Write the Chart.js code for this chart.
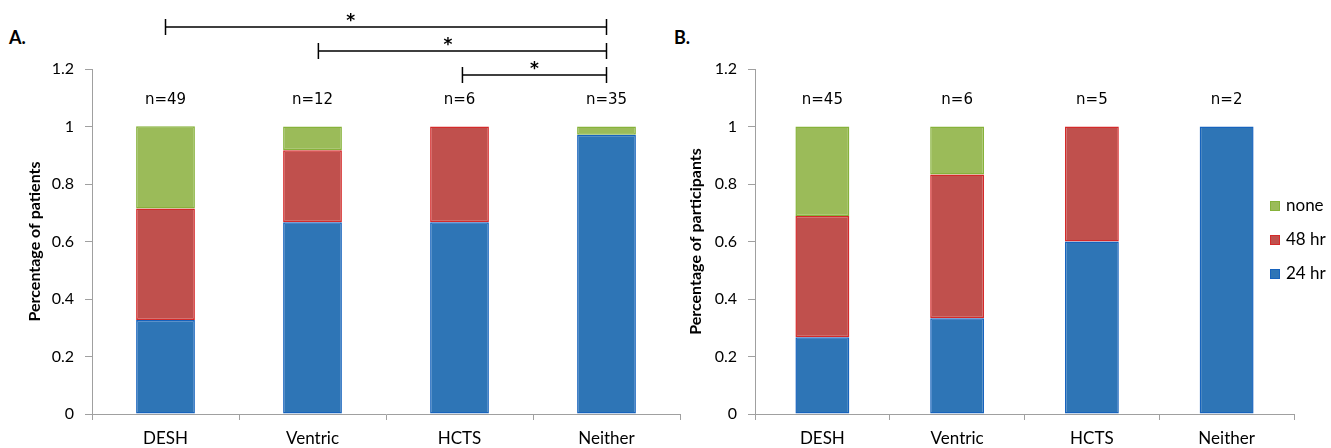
<!DOCTYPE html>
<html>
<head>
<meta charset="utf-8">
<title>Stacked bars</title>
<script src="https://cdn.jsdelivr.net/npm/chart.js@4.4.1/dist/chart.umd.min.js"></script>
<style>
  body { margin: 0; background: #fff; width: 1331px; height: 448px; overflow: hidden; position: relative; }
  canvas { position: absolute; top: 0; }
  #chartA { left: 0; }
  #chartB { left: 640px; }
  .panel { position: absolute; font: bold 18px Lato, sans-serif; color: #000; line-height: 1; }
</style>
</head>
<body>
<div class="panel" style="left:9px;top:28px">A.</div>
<div class="panel" style="left:674px;top:28px">B.</div>
<canvas id="chartA" width="690" height="448"></canvas>
<canvas id="chartB" width="691" height="448"></canvas>
<script>
  // categories and values (fractions)
  var categories = ['DESH', 'Ventric', 'HCTS', 'Neither'];
  var seriesNames = ['24 hr', '48 hr', 'none'];

  var patients24 = [0.327, 0.667, 0.667, 0.971];
  var patients48 = [0.388, 0.250, 0.333, 0];
  var patientsNone = [0.286, 0.083, 0, 0.029];
  var patientsN = ['n=49', 'n=12', 'n=6', 'n=35'];

  var participants24 = [0.267, 0.333, 0.600, 1.000];
  var participants48 = [0.422, 0.500, 0.400, 0];
  var participantsNone = [0.311, 0.167, 0, 0];
  var participantsN = ['n=45', 'n=6', 'n=5', 'n=2'];

  var yTickLabels = ['0', '0.2', '0.4', '0.6', '0.8', '1', '1.2'];

  // significance brackets in panel A (category position from/to, height in axis units)
  var brackets = [
    { from: 0, to: 3, level: 1.346, star: 0.42 },
    { from: 1.04, to: 3, level: 1.263, star: 0.45 },
    { from: 2.02, to: 3, level: 1.179, star: 0.5 }
  ];

  var fills = ['#2E75B6', '#C0504D', '#9BBB59'];
  var borders = ['#1763BD', '#D42A2A', '#86B23A'];
  var axisColor = '#A0A0A0';
  var textColor = '#000';

  function datasets(a, b, c) {
    return [a, b, c].map(function (vals, i) {
      return {
        label: seriesNames[i],
        data: vals,
        backgroundColor: fills[i],
        borderColor: borders[i],
        borderWidth: 1.5,
        borderSkipped: false,
        barPercentage: 0.4,
        categoryPercentage: 1.0
      };
    });
  }

  // "n=" counts above each bar
  var countLabels = {
    id: 'countLabels',
    afterDraw: function (chart, args, opts) {
      var ctx = chart.ctx;
      var x = chart.scales.x, y = chart.scales.y;
      ctx.save();
      ctx.font = '15px "DejaVu Sans"';
      ctx.fillStyle = '#000';
      ctx.textAlign = 'center';
      ctx.textBaseline = 'middle';
      opts.labels.forEach(function (t, i) {
        ctx.fillText(t, x.getPixelForValue(i), y.getPixelForValue(1) - 26);
      });
      ctx.restore();
    }
  };

  var sigBrackets = {
    id: 'sigBrackets',
    afterDraw: function (chart, args, opts) {
      if (!opts.items) return;
      var ctx = chart.ctx;
      var x = chart.scales.x, y = chart.scales.y;
      ctx.save();
      ctx.strokeStyle = '#000';
      ctx.lineWidth = 1.5;
      opts.items.forEach(function (b) {
        var x1 = x.getPixelForValue(b.from), x2 = x.getPixelForValue(b.to);
        var yy = y.getPixelForValue(b.level);
        ctx.beginPath();
        ctx.moveTo(x1, yy); ctx.lineTo(x2, yy);
        ctx.moveTo(x1, yy - 8); ctx.lineTo(x1, yy + 8);
        ctx.moveTo(x2, yy - 8); ctx.lineTo(x2, yy + 8);
        ctx.stroke();
        ctx.font = 'bold 17px "DejaVu Sans"';
        ctx.fillStyle = '#000';
        ctx.textAlign = 'center';
        ctx.textBaseline = 'middle';
        ctx.fillText('*', x1 + b.star * (x2 - x1), yy - 5);
      });
      ctx.restore();
    }
  };

  // legend inside the plot area, top series first
  var sideLegend = {
    id: 'sideLegend',
    afterDraw: function (chart, args, opts) {
      if (!opts.show) return;
      var ctx = chart.ctx;
      var ds = chart.data.datasets;
      ctx.save();
      ctx.font = '17px Lato';
      ctx.textAlign = 'left';
      ctx.textBaseline = 'middle';
      for (var k = 0; k < ds.length; k++) {
        var d = ds[ds.length - 1 - k];
        var cy = opts.top + k * opts.step;
        ctx.fillStyle = d.backgroundColor;
        ctx.fillRect(opts.left, cy - 5, 10, 10);
        ctx.strokeStyle = d.borderColor;
        ctx.lineWidth = 1;
        ctx.strokeRect(opts.left + 0.5, cy - 4.5, 9, 9);
        ctx.fillStyle = textColor;
        ctx.fillText(d.label, opts.left + 16, cy);
      }
      ctx.restore();
    }
  };

  function makeChart(id, data, nLabels, title, yWidth, padRight, titlePad, extra) {
    return new Chart(document.getElementById(id), {
      type: 'bar',
      data: { labels: categories, datasets: data },
      plugins: [countLabels, sigBrackets, sideLegend],
      options: {
        responsive: false,
        animation: false,
        layout: { padding: { top: 69, right: padRight, bottom: 0, left: 0 } },
        plugins: {
          legend: { display: false },
          tooltip: { enabled: false },
          countLabels: { labels: nLabels },
          sigBrackets: { items: extra.brackets },
          sideLegend: extra.legend || { show: false }
        },
        scales: {
          x: {
            stacked: true,
            grid: { display: true, drawOnChartArea: false, drawTicks: true, tickLength: 6, color: axisColor, offset: true },
            border: { color: axisColor, width: 1 },
            ticks: { font: { family: 'Lato', size: 17 }, color: textColor, padding: 8 },
            afterFit: function (s) { s.height = 34; }
          },
          y: {
            stacked: true,
            min: 0,
            max: 1.2,
            grid: { display: true, drawOnChartArea: false, drawTicks: true, tickLength: 7, color: axisColor },
            border: { color: axisColor, width: 1 },
            ticks: {
              stepSize: 0.2,
              padding: 11,
              font: { family: 'Lato', size: 16 },
              color: textColor,
              callback: function (v, i) { return yTickLabels[i]; }
            },
            title: {
              display: true,
              text: title,
              color: textColor,
              font: { family: 'Lato', size: 16, weight: 'bold' },
              padding: { top: titlePad, bottom: 0 }
            },
            afterFit: function (s) { s.width = yWidth; }
          }
        }
      }
    });
  }

  function draw() {
    makeChart('chartA', datasets(patients24, patients48, patientsNone), patientsN,
      'Percentage of patients', 92, 10, 25, { brackets: brackets });
    makeChart('chartB', datasets(participants24, participants48, participantsNone), participantsN,
      'Percentage of participants', 115, 37, 46, { legend: { show: true, left: 630, top: 206, step: 34 } });
  }

  Promise.all([
    document.fonts.load('16px Lato'),
    document.fonts.load('bold 16px Lato'),
    document.fonts.load('15px "DejaVu Sans"'),
    document.fonts.load('bold 17px "DejaVu Sans"')
  ]).then(draw, draw);
</script>
</body>
</html>
